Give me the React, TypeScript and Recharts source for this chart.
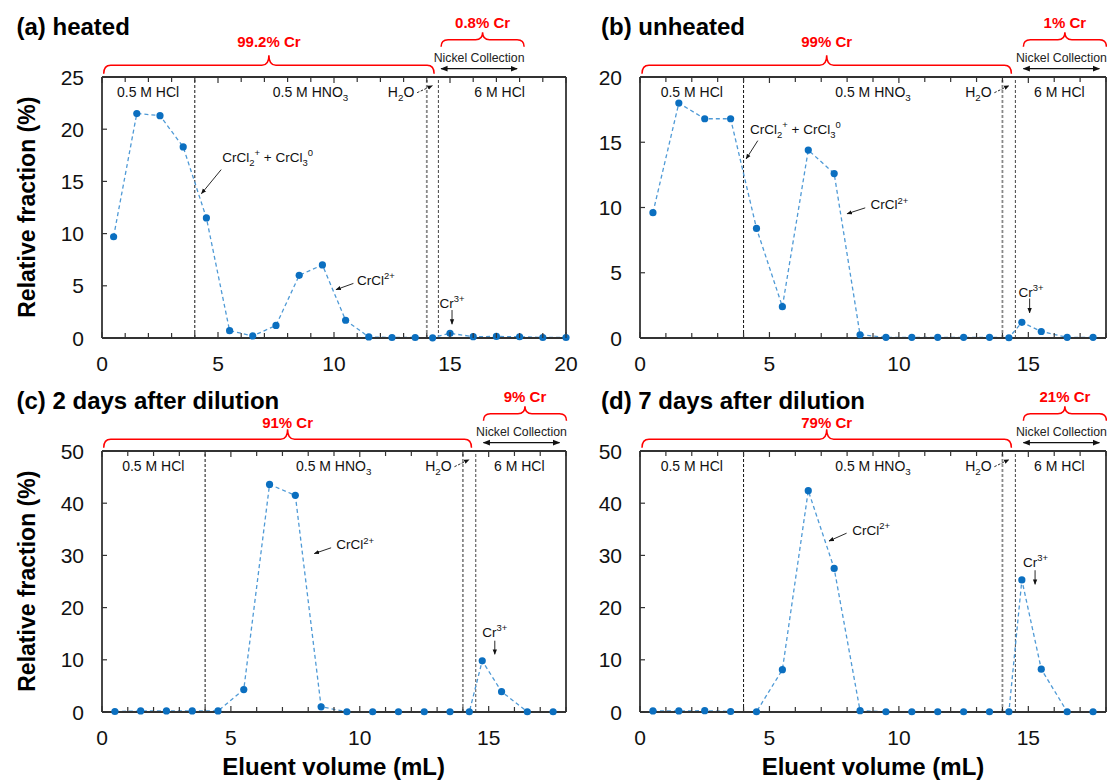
import React from 'react';
import { LineChart, Line, XAxis, YAxis, ReferenceLine } from 'recharts';

const FONT = '"Liberation Sans", Arial, Helvetica, sans-serif';

// eluent volume (mL) of each collected fraction
const volumesHeated = [0.5, 1.5, 2.5, 3.5, 4.5, 5.5, 6.5, 7.5, 8.5, 9.5, 10.5, 11.5, 12.5, 13.5, 14.25, 15, 16, 17, 18, 19, 20];
const volumes = [0.5, 1.5, 2.5, 3.5, 4.5, 5.5, 6.5, 7.5, 8.5, 9.5, 10.5, 11.5, 12.5, 13.5, 14.25, 14.75, 15.5, 16.5, 17.5];

// relative Cr fraction (%) in each fraction
const heated = [9.7, 21.5, 21.3, 18.3, 11.5, 0.7, 0.2, 1.2, 6.0, 7.0, 1.7, 0.1, 0.05, 0.05, 0.02, 0.45, 0.13, 0.15, 0.12, 0.05, 0.05];
const unheated = [9.6, 18.0, 16.8, 16.8, 8.4, 2.4, 14.4, 12.6, 0.25, 0.05, 0.05, 0.05, 0.05, 0.05, 0.02, 1.2, 0.5, 0.05, 0.05];
const twoDays = [0.1, 0.2, 0.2, 0.2, 0.2, 4.3, 43.6, 41.5, 1.0, 0.05, 0.05, 0.05, 0.05, 0.05, 0.05, 9.8, 3.9, 0.05, 0.05];
const sevenDays = [0.2, 0.2, 0.25, 0.1, 0.05, 8.1, 42.4, 27.5, 0.25, 0.05, 0.05, 0.05, 0.05, 0.05, 0.05, 25.3, 8.2, 0.05, 0.05];

const xTicks20 = [0, 1, 2, 3, 4, 5, 6, 7, 8, 9, 10, 11, 12, 13, 14, 15, 16, 17, 18, 19, 20];
const xTicks18 = [0, 1, 2, 3, 4, 5, 6, 7, 8, 9, 10, 11, 12, 13, 14, 15, 16, 17, 18];
const yTicks25 = [0, 5, 10, 15, 20, 25];
const yTicks20 = [0, 5, 10, 15, 20];
const yTicks50 = [0, 10, 20, 30, 40, 50];

// eluent switch points (mL)
const hclEnd = 4;
const hno3End = 14;
const waterEnd = 14.5;

const titles = ['(a) heated', '(b) unheated', '(c) 2 days after dilution', '(d) 7 days after dilution'];
const crMain = ['99.2% Cr', '99% Cr', '91% Cr', '79% Cr'];
const crNickel = ['0.8% Cr', '1% Cr', '9% Cr', '21% Cr'];

type Seg = { t: string; s?: 'sub' | 'sup' };
type Note = { segs: Seg[]; tx: number; ty: number; anchor: 'start' | 'middle'; from: [number, number]; to: [number, number] };

const mixed: Seg[] = [{ t: 'CrCl' }, { t: '2', s: 'sub' }, { t: '+', s: 'sup' }, { t: ' + CrCl' }, { t: '3', s: 'sub' }, { t: '0', s: 'sup' }];
const crcl: Seg[] = [{ t: 'CrCl' }, { t: '2+', s: 'sup' }];
const cr3: Seg[] = [{ t: 'Cr' }, { t: '3+', s: 'sup' }];

const PH = 261;

const panels = [
  {
    left: 101.7, top: 76.7, w: 464, xMax: 20, yMax: 25, xs: volumesHeated, ys: heated,
    xTicks: xTicks20, yTicks: yTicks25, titleX: 16.5, hclX: 17.15, shift: 0, bigRise: 35,
    notes: [
      { segs: mixed, tx: 5.2, ty: 17.3, anchor: 'start', from: [5.15, 16.1], to: [4.3, 13.8] },
      { segs: crcl, tx: 11.0, ty: 5.5, anchor: 'start', from: [10.85, 5.2], to: [10.1, 4.6] },
      { segs: cr3, tx: 15.1, ty: 3.3, anchor: 'middle', from: [15.1, 2.65], to: [15.1, 1.3] },
    ] as Note[],
  },
  {
    left: 640, top: 76.7, w: 466, xMax: 18, yMax: 20, xs: volumes, ys: unheated,
    xTicks: xTicks18, yTicks: yTicks20, titleX: 601, hclX: 16.2, shift: 5, bigRise: 35,
    notes: [
      { segs: mixed, tx: 4.25, ty: 16.0, anchor: 'start', from: [4.55, 15.1], to: [4.1, 13.7] },
      { segs: crcl, tx: 8.9, ty: 10.2, anchor: 'start', from: [8.7, 9.95], to: [8.0, 9.5] },
      { segs: cr3, tx: 15.1, ty: 3.5, anchor: 'middle', from: [15.05, 3.0], to: [15.05, 1.9] },
    ] as Note[],
  },
  {
    left: 101.7, top: 450.7, w: 464, xMax: 18, yMax: 50, xs: volumes, ys: twoDays,
    xTicks: xTicks18, yTicks: yTicks50, titleX: 16.5, hclX: 16.2, shift: 5, bigRise: 28,
    notes: [
      { segs: crcl, tx: 9.1, ty: 32, anchor: 'start', from: [8.9, 31.4], to: [8.25, 30.3] },
      { segs: cr3, tx: 15.25, ty: 15.3, anchor: 'middle', from: [15.25, 13.6], to: [15.25, 11.0] },
    ] as Note[],
  },
  {
    left: 640, top: 450.7, w: 466, xMax: 18, yMax: 50, xs: volumes, ys: sevenDays,
    xTicks: xTicks18, yTicks: yTicks50, titleX: 601, hclX: 16.2, shift: 5, bigRise: 28,
    notes: [
      { segs: crcl, tx: 8.2, ty: 34.8, anchor: 'start', from: [7.98, 34.2], to: [7.3, 32.7] },
      { segs: cr3, tx: 15.28, ty: 28.7, anchor: 'middle', from: [15.26, 27.1], to: [15.26, 24.4] },
    ] as Note[],
  },
];

type P = (typeof panels)[number];

const AX_L = 60;
const AX_B = 40;
const M_T = 10;
const M_R = 20;
const AXIS = '#333';

function Formula({ x, y, segs, size, anchor }: { x: number; y: number; segs: Seg[]; size: number; anchor: string }) {
  let off = 0;
  return (
    <text x={x} y={y + size * 0.35} fontSize={size} textAnchor={anchor} fill="#111" fontFamily={FONT}>
      {segs.map((g, i) => {
        const target = g.s === 'sub' ? size * 0.3 : g.s === 'sup' ? -size * 0.42 : 0;
        const dy = target - off;
        off = target;
        return (
          <tspan key={i} dy={dy} fontSize={g.s ? size * 0.7 : size}>
            {g.t}
          </tspan>
        );
      })}
    </text>
  );
}

function Panel({ p }: { p: P }) {
  const data = p.xs.map((x, i) => ({ x, y: p.ys[i] }));
  const bottomTick = (t: any) => {
    const major = t.payload.value % 5 === 0;
    return (
      <g>
        <line x1={t.x} x2={t.x} y1={t.y} y2={t.y - (major ? 6 : 5)} stroke={AXIS} strokeWidth={1.2} />
        {major && (
          <text x={t.x} y={t.y + 25} textAnchor="middle" dominantBaseline="central" fontSize={21} fill="#111" fontFamily={FONT}>
            {t.payload.value}
          </text>
        )}
      </g>
    );
  };
  const topTick = (t: any) => (
    <line x1={t.x} x2={t.x} y1={t.y} y2={t.y + (t.payload.value % 5 === 0 ? 6 : 5)} stroke={AXIS} strokeWidth={1.2} />
  );
  const leftTick = (t: any) => (
    <g>
      <line x1={t.x} x2={t.x + 5} y1={t.y} y2={t.y} stroke={AXIS} strokeWidth={1.2} />
      <text x={t.x - 18} y={t.y} textAnchor="end" dominantBaseline="central" fontSize={21} fill="#111" fontFamily={FONT}>
        {t.payload.value}
      </text>
    </g>
  );
  const rightTick = (t: any) => <line x1={t.x} x2={t.x - 5} y1={t.y} y2={t.y} stroke={AXIS} strokeWidth={1.2} />;

  // the top and right axes only carry the frame and inward ticks; they get a 1px box so they are drawn
  return (
    <div style={{ position: 'absolute', left: p.left - AX_L, top: p.top - M_T }}>
      <LineChart width={AX_L + p.w + M_R} height={M_T + PH + AX_B} data={data} margin={{ top: M_T - 1, right: M_R - 1, bottom: 0, left: 0 }}>
        <XAxis dataKey="x" type="number" domain={[0, p.xMax]} ticks={p.xTicks} interval={0} height={AX_B}
          axisLine={{ stroke: AXIS, strokeWidth: 1.8 }} tickLine={false} tickSize={0} tickMargin={0} tick={bottomTick} />
        <XAxis xAxisId="top" orientation="top" dataKey="x" type="number" domain={[0, p.xMax]} ticks={p.xTicks} interval={0} height={1}
          axisLine={{ stroke: AXIS, strokeWidth: 1.8 }} tickLine={false} tickSize={0} tickMargin={0} tick={topTick} />
        <YAxis type="number" domain={[0, p.yMax]} ticks={p.yTicks} interval={0} width={AX_L}
          axisLine={{ stroke: AXIS, strokeWidth: 1.8 }} tickLine={false} tickSize={0} tickMargin={0} tick={leftTick} />
        <YAxis yAxisId="right" orientation="right" type="number" domain={[0, p.yMax]} ticks={p.yTicks} interval={0} width={1}
          axisLine={{ stroke: AXIS, strokeWidth: 1.8 }} tickLine={false} tickSize={0} tickMargin={0} tick={rightTick} />
        <ReferenceLine x={hclEnd} stroke="#111" strokeDasharray="3 2" strokeWidth={1} />
        <ReferenceLine x={hno3End} stroke="#888" strokeDasharray="3 2" strokeWidth={1.8} />
        <ReferenceLine x={waterEnd} stroke="#444" strokeDasharray="3 2" strokeWidth={1} />
        <Line dataKey="y" type="linear" stroke="#4f9ad6" strokeWidth={1.3} strokeDasharray="4 3"
          dot={{ r: 3.6, fill: '#0b6fc0', stroke: '#0b6fc0', strokeWidth: 0 }} isAnimationActive={false} />
      </LineChart>
    </div>
  );
}

function brace(x1: number, x2: number, y: number, d: number, t: number, r = 7) {
  const c = (x1 + x2) / 2;
  return `M${x1},${y + d} Q${x1},${y} ${x1 + r},${y} L${c - r},${y} Q${c},${y} ${c},${y - t} Q${c},${y} ${c + r},${y} L${x2 - r},${y} Q${x2},${y} ${x2},${y + d}`;
}

function Overlay() {
  return (
    <svg width={1107} height={780} style={{ position: 'absolute', left: 0, top: 0, pointerEvents: 'none' }} fontFamily={FONT}>
      <defs>
        <marker id="ah" viewBox="0 0 10 10" refX="9" refY="5" markerWidth="6" markerHeight="6" orient="auto-start-reverse">
          <path d="M0,1 L10,5 L0,9 z" fill="#111" />
        </marker>
      </defs>
      {panels.map((p, i) => {
        const px = (x: number) => p.left + (x / p.xMax) * p.w;
        const py = (y: number) => p.top + PH - (y / p.yMax) * PH;
        const xw = px(waterEnd);
        const s = p.shift;
        return (
          <g key={i}>
            <text x={p.titleX} y={p.top - 42} fontSize={24} fontWeight="bold" fill="#000">{titles[i]}</text>

            <path d={brace(p.left + 2, xw - 4, p.top - 11.5, 8.5, 10)} fill="none" stroke="#ff0000" strokeWidth={1.5} />
            <text x={(p.left + 2 + xw - 4) / 2} y={p.top - p.bigRise} fontSize={15} fontWeight="bold" fill="#ff0000"
              textAnchor="middle" dominantBaseline="central">{crMain[i]}</text>

            <path d={brace(xw + 3 + s, xw + 86 + s, p.top - 37, 7, 7.5)} fill="none" stroke="#ff0000" strokeWidth={1.5} />
            <text x={xw + 44.5 + s} y={p.top - 54} fontSize={15} fontWeight="bold" fill="#ff0000"
              textAnchor="middle" dominantBaseline="central">{crNickel[i]}</text>
            <text x={xw + 41 + s} y={p.top - 18.5} fontSize={12.3} fill="#222" textAnchor="middle" dominantBaseline="central">
              Nickel Collection
            </text>
            <line x1={xw + 3 + s} x2={xw + 79 + s} y1={p.top - 8} y2={p.top - 8} stroke="#111" strokeWidth={1.2}
              markerStart="url(#ah)" markerEnd="url(#ah)" />

            <text x={px(2)} y={p.top + 15} fontSize={14} fill="#111" textAnchor="middle" dominantBaseline="central">0.5 M HCl</text>
            <Formula x={px(9)} y={p.top + 15} size={14} anchor="middle" segs={[{ t: '0.5 M HNO' }, { t: '3', s: 'sub' }]} />
            <Formula x={xw - 37} y={p.top + 15} size={14} anchor="middle" segs={[{ t: 'H' }, { t: '2', s: 'sub' }, { t: 'O' }]} />
            <line x1={xw - 21} y1={p.top + 16} x2={(px(hno3End) + xw) / 2} y2={p.top + 9} stroke="#111" strokeWidth={0.9}
              strokeDasharray="2.5 1.5" markerEnd="url(#ah)" />
            <text x={px(p.hclX)} y={p.top + 15} fontSize={14} fill="#111" textAnchor="middle" dominantBaseline="central">6 M HCl</text>

            {p.notes.map((n, k) => (
              <g key={k}>
                <Formula x={px(n.tx)} y={py(n.ty)} size={13.5} anchor={n.anchor} segs={n.segs} />
                <line x1={px(n.from[0])} y1={py(n.from[1])} x2={px(n.to[0])} y2={py(n.to[1])} stroke="#111" strokeWidth={0.9}
                  markerEnd="url(#ah)" />
              </g>
            ))}
          </g>
        );
      })}

      {[panels[0], panels[2]].map((p, i) => (
        <text key={i} transform={`translate(27, ${p.top + PH / 2}) rotate(-90)`} fontSize={23} fontWeight="bold" fill="#000"
          textAnchor="middle" dominantBaseline="central">
          Relative fraction (%)
        </text>
      ))}
      {[panels[2], panels[3]].map((p, i) => (
        <text key={i} x={p.left + p.w / 2} y={775} fontSize={24} fontWeight="bold" fill="#000" textAnchor="middle">
          Eluent volume (mL)
        </text>
      ))}
    </svg>
  );
}

export default function App() {
  return (
    <div style={{ position: 'absolute', left: 0, top: 0, width: 1107, height: 780, overflow: 'hidden', background: '#fff', fontFamily: FONT }}>
      {panels.map((p, i) => (
        <Panel key={i} p={p} />
      ))}
      <Overlay />
    </div>
  );
}
